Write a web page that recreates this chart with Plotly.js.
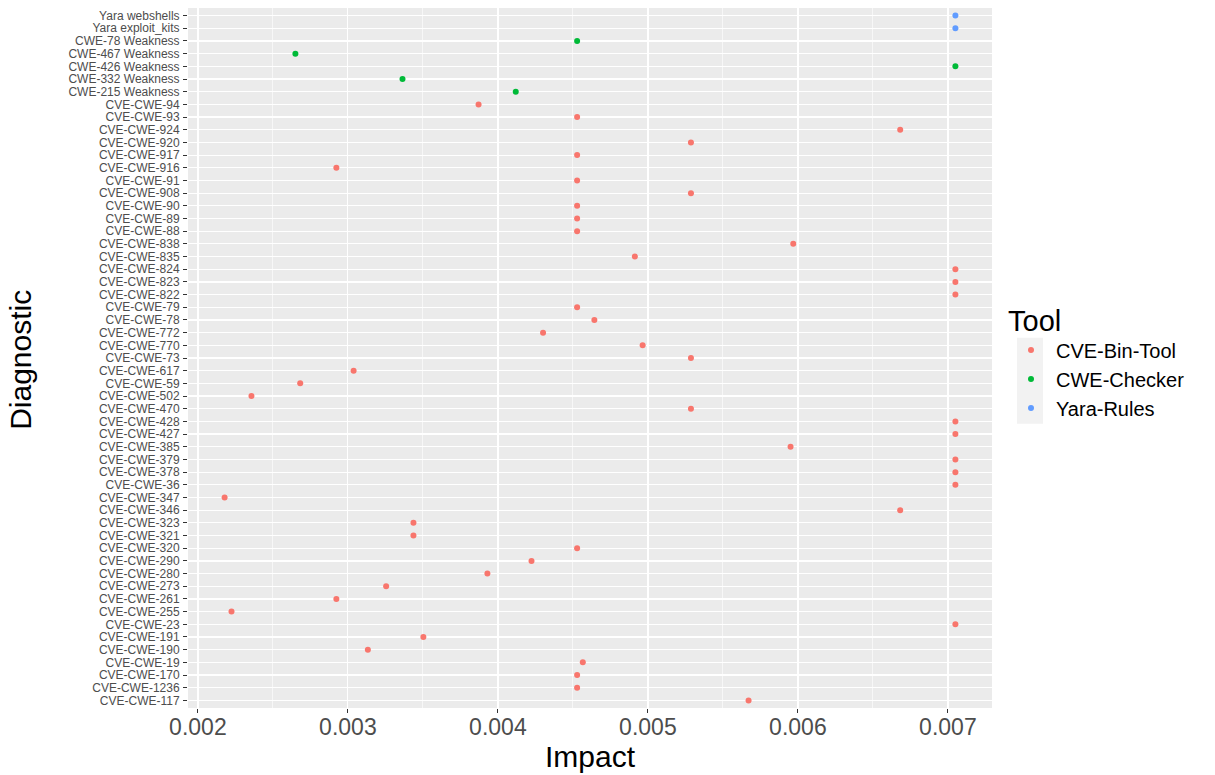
<!DOCTYPE html>
<html>
<head>
<meta charset="utf-8">
<script src="https://cdn.plot.ly/plotly-3.0.1.min.js"></script>
<style>html,body{margin:0;padding:0;background:#fff;}#chart{width:1215px;height:775px;}</style>
</head>
<body>
<div id="chart"></div>
<script>
// Categories listed bottom to top
const cveCats = ["CVE-CWE-117","CVE-CWE-1236","CVE-CWE-170","CVE-CWE-19","CVE-CWE-190","CVE-CWE-191","CVE-CWE-23","CVE-CWE-255","CVE-CWE-261","CVE-CWE-273","CVE-CWE-280","CVE-CWE-290","CVE-CWE-320","CVE-CWE-321","CVE-CWE-323","CVE-CWE-346","CVE-CWE-347","CVE-CWE-36","CVE-CWE-378","CVE-CWE-379","CVE-CWE-385","CVE-CWE-427","CVE-CWE-428","CVE-CWE-470","CVE-CWE-502","CVE-CWE-59","CVE-CWE-617","CVE-CWE-73","CVE-CWE-770","CVE-CWE-772","CVE-CWE-78","CVE-CWE-79","CVE-CWE-822","CVE-CWE-823","CVE-CWE-824","CVE-CWE-835","CVE-CWE-838","CVE-CWE-88","CVE-CWE-89","CVE-CWE-90","CVE-CWE-908","CVE-CWE-91","CVE-CWE-916","CVE-CWE-917","CVE-CWE-920","CVE-CWE-924","CVE-CWE-93","CVE-CWE-94"];
const cveVals = [0.005671,0.004528,0.004528,0.004566,0.003133,0.003503,0.00705,0.002224,0.002923,0.003255,0.00393,0.004224,0.004528,0.003437,0.003437,0.006682,0.002178,0.00705,0.00705,0.00705,0.005951,0.00705,0.00705,0.005287,0.002357,0.002682,0.003038,0.005287,0.004965,0.004301,0.004643,0.004528,0.00705,0.00705,0.00705,0.004913,0.005969,0.004528,0.004528,0.004528,0.005287,0.004528,0.002923,0.004528,0.005287,0.006682,0.004528,0.003871];
const cweCats = ["CWE-215 Weakness","CWE-332 Weakness","CWE-426 Weakness","CWE-467 Weakness","CWE-78 Weakness"];
const cweVals = [0.004119,0.003364,0.00705,0.00265,0.004528];
const yaraCats = ["Yara exploit_kits","Yara webshells"];
const yaraVals = [0.00705,0.00705];
const toolNames = ["CVE-Bin-Tool","CWE-Checker","Yara-Rules"];
const xTickVals = [0.002,0.003,0.004,0.005,0.006,0.007];
const xTickText = ["0.002","0.003","0.004","0.005","0.006","0.007"];

const allCats = cveCats.concat(cweCats, yaraCats);
const colors = ["#F8766D","#00BA38","#619CFF"];
const font = "Liberation Sans, Arial, sans-serif";

function tr(cats, vals, i){
  return {type:"scatter", mode:"markers", x:vals, y:cats, name:toolNames[i],
    marker:{color:colors[i], size:6}, hoverinfo:"x+y"};
}
const data = [tr(cveCats,cveVals,0), tr(cweCats,cweVals,1), tr(yaraCats,yaraVals,2)];

const W = 1215, H = 775;
const pl = 188, pr = 992, pt = 8, pb = 708.3;
const px = v => (v - pl)/(pr - pl);
const py = v => (pb - v)/(pb - pt);

const layout = {
  width:W, height:H,
  margin:{l:pl, r:W-pr, t:pt, b:H-pb, pad:0},
  paper_bgcolor:"#FFFFFF", plot_bgcolor:"#EBEBEB",
  font:{family:font, color:"#4D4D4D"},
  showlegend:true,
  xaxis:{range:[0.001934,0.007294], tickmode:"array", tickvals:xTickVals, ticktext:xTickText,
    showgrid:true, gridcolor:"#FFFFFF", gridwidth:1.2, zeroline:false, showline:false,
    ticks:"outside", ticklen:4, tickwidth:1, tickcolor:"#333333",
    tickfont:{size:23, color:"#4D4D4D", family:font}, ticklabelstandoff:-6,
    minor:{dtick:0.0005, tick0:0.0025, showgrid:true, gridcolor:"#FFFFFF", gridwidth:0.6, ticks:""},
    title:{text:"Impact", font:{size:30, color:"#000000", family:font}, standoff:4},
    automargin:false, fixedrange:true},
  yaxis:{type:"category", categoryorder:"array", categoryarray:allCats, range:[-0.6, allCats.length-0.4],
    tickmode:"array", tickvals:allCats, ticktext:allCats,
    showgrid:true, gridcolor:"#FFFFFF", gridwidth:1.2, zeroline:false, showline:false,
    ticks:"outside", ticklen:4, tickwidth:1, tickcolor:"#333333",
    tickfont:{size:12, color:"#4D4D4D", family:font}, ticklabelstandoff:1,
    automargin:false, fixedrange:true},
  annotations:[{text:"Diagnostic", xref:"paper", yref:"paper", x:px(21), y:py(360),
    xanchor:"center", yanchor:"middle", textangle:-90, showarrow:false,
    font:{size:30, color:"#000000", family:font}}],
  legend:{x:px(1006), xanchor:"left", y:py(293), yanchor:"top",
    bgcolor:"rgba(0,0,0,0)", borderwidth:0,
    title:{text:"Tool", font:{size:29, color:"#000000", family:font}},
    font:{size:20, color:"#000000", family:font}, itemwidth:40, tracegroupgap:0},
  shapes:[{type:"rect", xref:"paper", yref:"paper", x0:px(1017), x1:px(1043), y0:py(424), y1:py(338),
    fillcolor:"#F2F2F2", line:{width:0}, layer:"below"}]
};

Plotly.newPlot("chart", data, layout, {displayModeBar:false, staticPlot:true});
</script>
</body>
</html>
